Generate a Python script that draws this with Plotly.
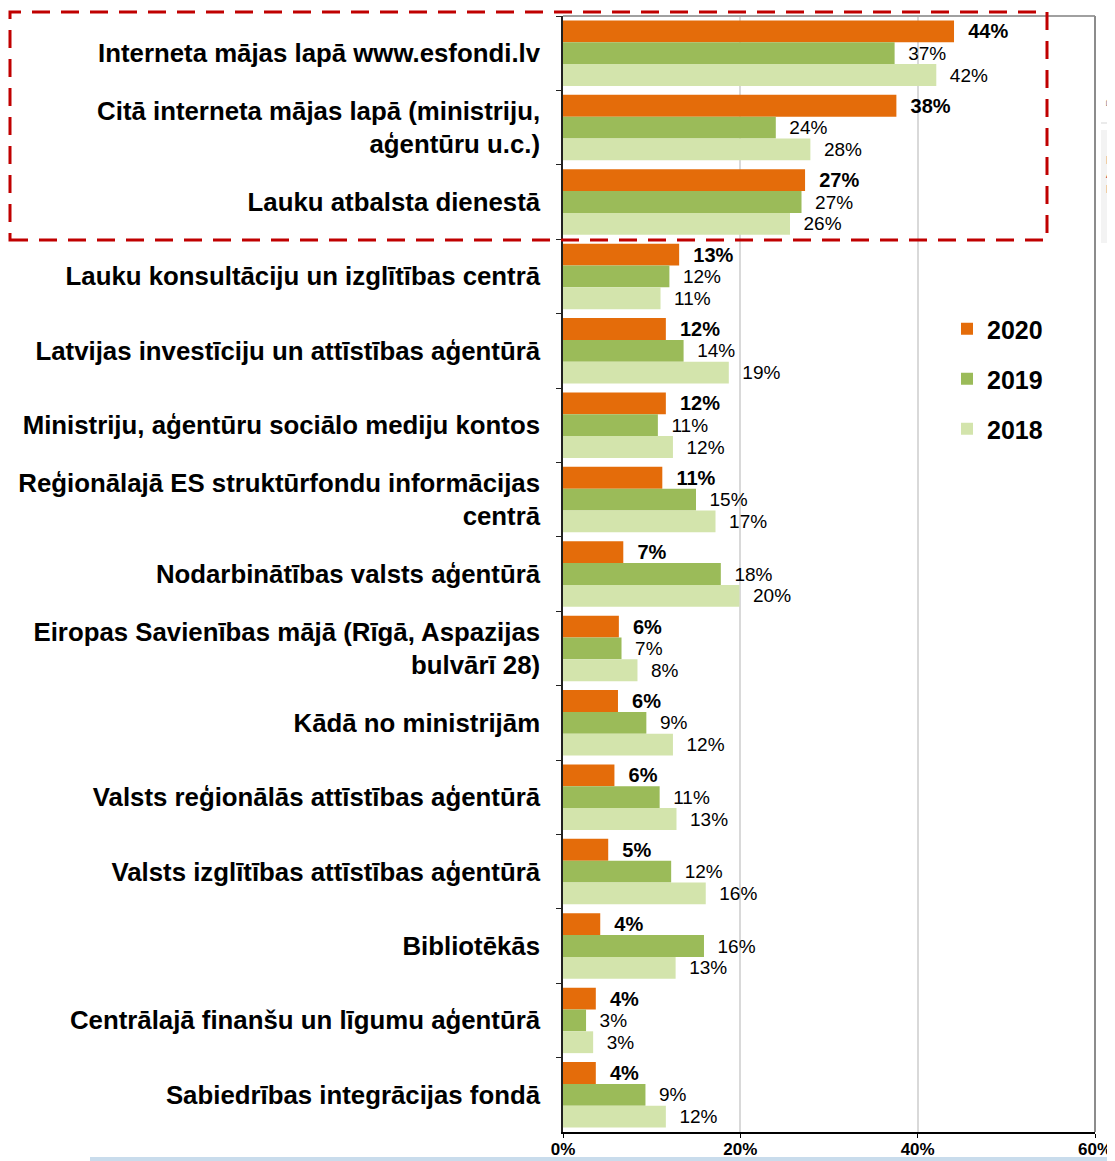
import plotly.graph_objects as go

categories = [
    "Interneta mājas lapā www.esfondi.lv",
    "Citā interneta mājas lapā (ministriju,<br>aģentūru u.c.)",
    "Lauku atbalsta dienestā",
    "Lauku konsultāciju un izglītības centrā",
    "Latvijas investīciju un attīstības aģentūrā",
    "Ministriju, aģentūru sociālo mediju kontos",
    "Reģionālajā ES struktūrfondu informācijas<br>centrā",
    "Nodarbinātības valsts aģentūrā",
    "Eiropas Savienības mājā (Rīgā, Aspazijas<br>bulvārī 28)",
    "Kādā no ministrijām",
    "Valsts reģionālās attīstības aģentūrā",
    "Valsts izglītības attīstības aģentūrā",
    "Bibliotēkās",
    "Centrālajā finanšu un līgumu aģentūrā",
    "Sabiedrības integrācijas fondā",
]

v2020 = [44.1, 37.6, 27.3, 13.1, 11.6, 11.6, 11.2, 6.8, 6.3, 6.2, 5.8, 5.1, 4.2, 3.7, 3.7]
v2019 = [37.4, 24.0, 26.9, 12.0, 13.6, 10.7, 15.0, 17.8, 6.6, 9.4, 10.9, 12.2, 15.9, 2.6, 9.3]
v2018 = [42.1, 27.9, 25.6, 11.0, 18.7, 12.4, 17.2, 19.9, 8.4, 12.4, 12.8, 16.1, 12.7, 3.4, 11.6]

series = [("2020", v2020, "#E46C0A", True),
          ("2019", v2019, "#9BBB59", False),
          ("2018", v2018, "#D3E4AC", False)]

FONT = "Liberation Sans, Arial, sans-serif"
NB = "\u00a0\u00a0"

fig = go.Figure()
for name, vals, color, bold in series:
    fig.add_trace(go.Bar(
        name=name, y=categories, x=vals, orientation="h",
        marker=dict(color=color, line=dict(width=0)),
        text=[f"{NB}{round(v):d}%" for v in vals],
        textposition="outside", constraintext="none", cliponaxis=False,
        textfont=dict(family=FONT, size=20 if bold else 19, color="#000000",
                      weight="bold" if bold else "normal"),
        legendgroup=name, hoverinfo="skip",
    ))

# The page body adds an 8px offset; layout is expressed in page pixels.
OFF = 8
W, H = 1115 - OFF, 1161 - OFF
PL, PR, PT, PB = 563, 1095, 16, 1132          # plot area in page pixels
L, R, T = PL - OFF, W - (PR - OFF), PT - OFF
B = H - (PB - OFF)
pw, ph = PR - PL, PB - PT

def px(x):
    return (x - PL) / pw

def py(y):
    return (PB - y) / ph

shapes = [
    # frame top and right
    dict(type="line", xref="paper", yref="paper", x0=0, x1=1, y0=1, y1=1,
         line=dict(color="#a0a0a0", width=2)),
    dict(type="line", xref="paper", yref="paper", x0=1, x1=1, y0=0, y1=1,
         line=dict(color="#8c8c8c", width=2)),
    # red dashed highlight
    dict(type="rect", xref="paper", yref="paper", x0=px(10), x1=px(1047),
         y0=py(240), y1=py(12), line=dict(color="#C00000", width=3, dash="18px,11px"),
         fillcolor="rgba(0,0,0,0)", layer="above"),
    # bottom blue strip artefact
    dict(type="rect", xref="paper", yref="paper", x0=px(90), x1=px(1115),
         y0=py(1161), y1=py(1157), line=dict(width=0), fillcolor="#c9dcec", layer="below"),
    # right side artefacts
    dict(type="line", xref="paper", yref="paper", x0=px(1101), x1=px(1115),
         y0=py(123), y1=py(123), line=dict(color="#e4e4e4", width=1.5)),
    dict(type="rect", xref="paper", yref="paper", x0=px(1101), x1=px(1116),
         y0=py(243), y1=py(130), line=dict(width=0), fillcolor="#f3f3f3", layer="below"),
]

annotations = [
    dict(text="⌂", x=px(1103), y=py(100), xref="paper", yref="paper", showarrow=False,
         xanchor="left", yanchor="middle", font=dict(family=FONT, size=16, color="#777777")),
    dict(text="N<br>A<br>P", x=px(1104), y=py(175), xref="paper", yref="paper", showarrow=False,
         xanchor="left", yanchor="middle", align="left",
         font=dict(family=FONT, size=11, color="#b03040")),
    dict(text="–", x=px(1106), y=py(225), xref="paper", yref="paper", showarrow=False,
         xanchor="left", yanchor="middle", font=dict(family=FONT, size=12, color="#777777")),
]

fig.update_layout(
    width=W, height=H,
    margin=dict(l=L, r=R, t=T, b=B, pad=0, autoexpand=False),
    paper_bgcolor="white", plot_bgcolor="white",
    barmode="group", bargap=0.12, bargroupgap=0,
    font=dict(family=FONT, color="#000000"),
    showlegend=True,
    legend=dict(x=px(947), y=py(379), xanchor="left", yanchor="middle",
                font=dict(family=FONT, size=25, weight="bold", color="#000000"),
                bgcolor="rgba(0,0,0,0)", tracegroupgap=14.5, traceorder="grouped"),
    xaxis=dict(range=[0, 60], dtick=20, ticksuffix="%", showgrid=True,
               gridcolor="#d9d9d9", gridwidth=2, zeroline=False,
               showline=True, linecolor="#000000", linewidth=1.5,
               ticks="outside", ticklen=4, tickcolor="#000000",
               ticklabelstandoff=-3,
               tickfont=dict(family=FONT, size=17, weight="bold", color="#000000"),
               automargin=False, fixedrange=True),
    yaxis=dict(autorange="reversed", showgrid=False, zeroline=False,
               showline=True, linecolor="#222222", linewidth=1.5,
               ticks="outside", ticklen=5, tickcolor="#222222", tickson="boundaries",
               ticklabelstandoff=16,
               tickfont=dict(family=FONT, size=25.8, weight="bold", color="#000000"),
               automargin=False, fixedrange=True),
    shapes=shapes,
    annotations=annotations,
)

fig.write_html("out.html")
